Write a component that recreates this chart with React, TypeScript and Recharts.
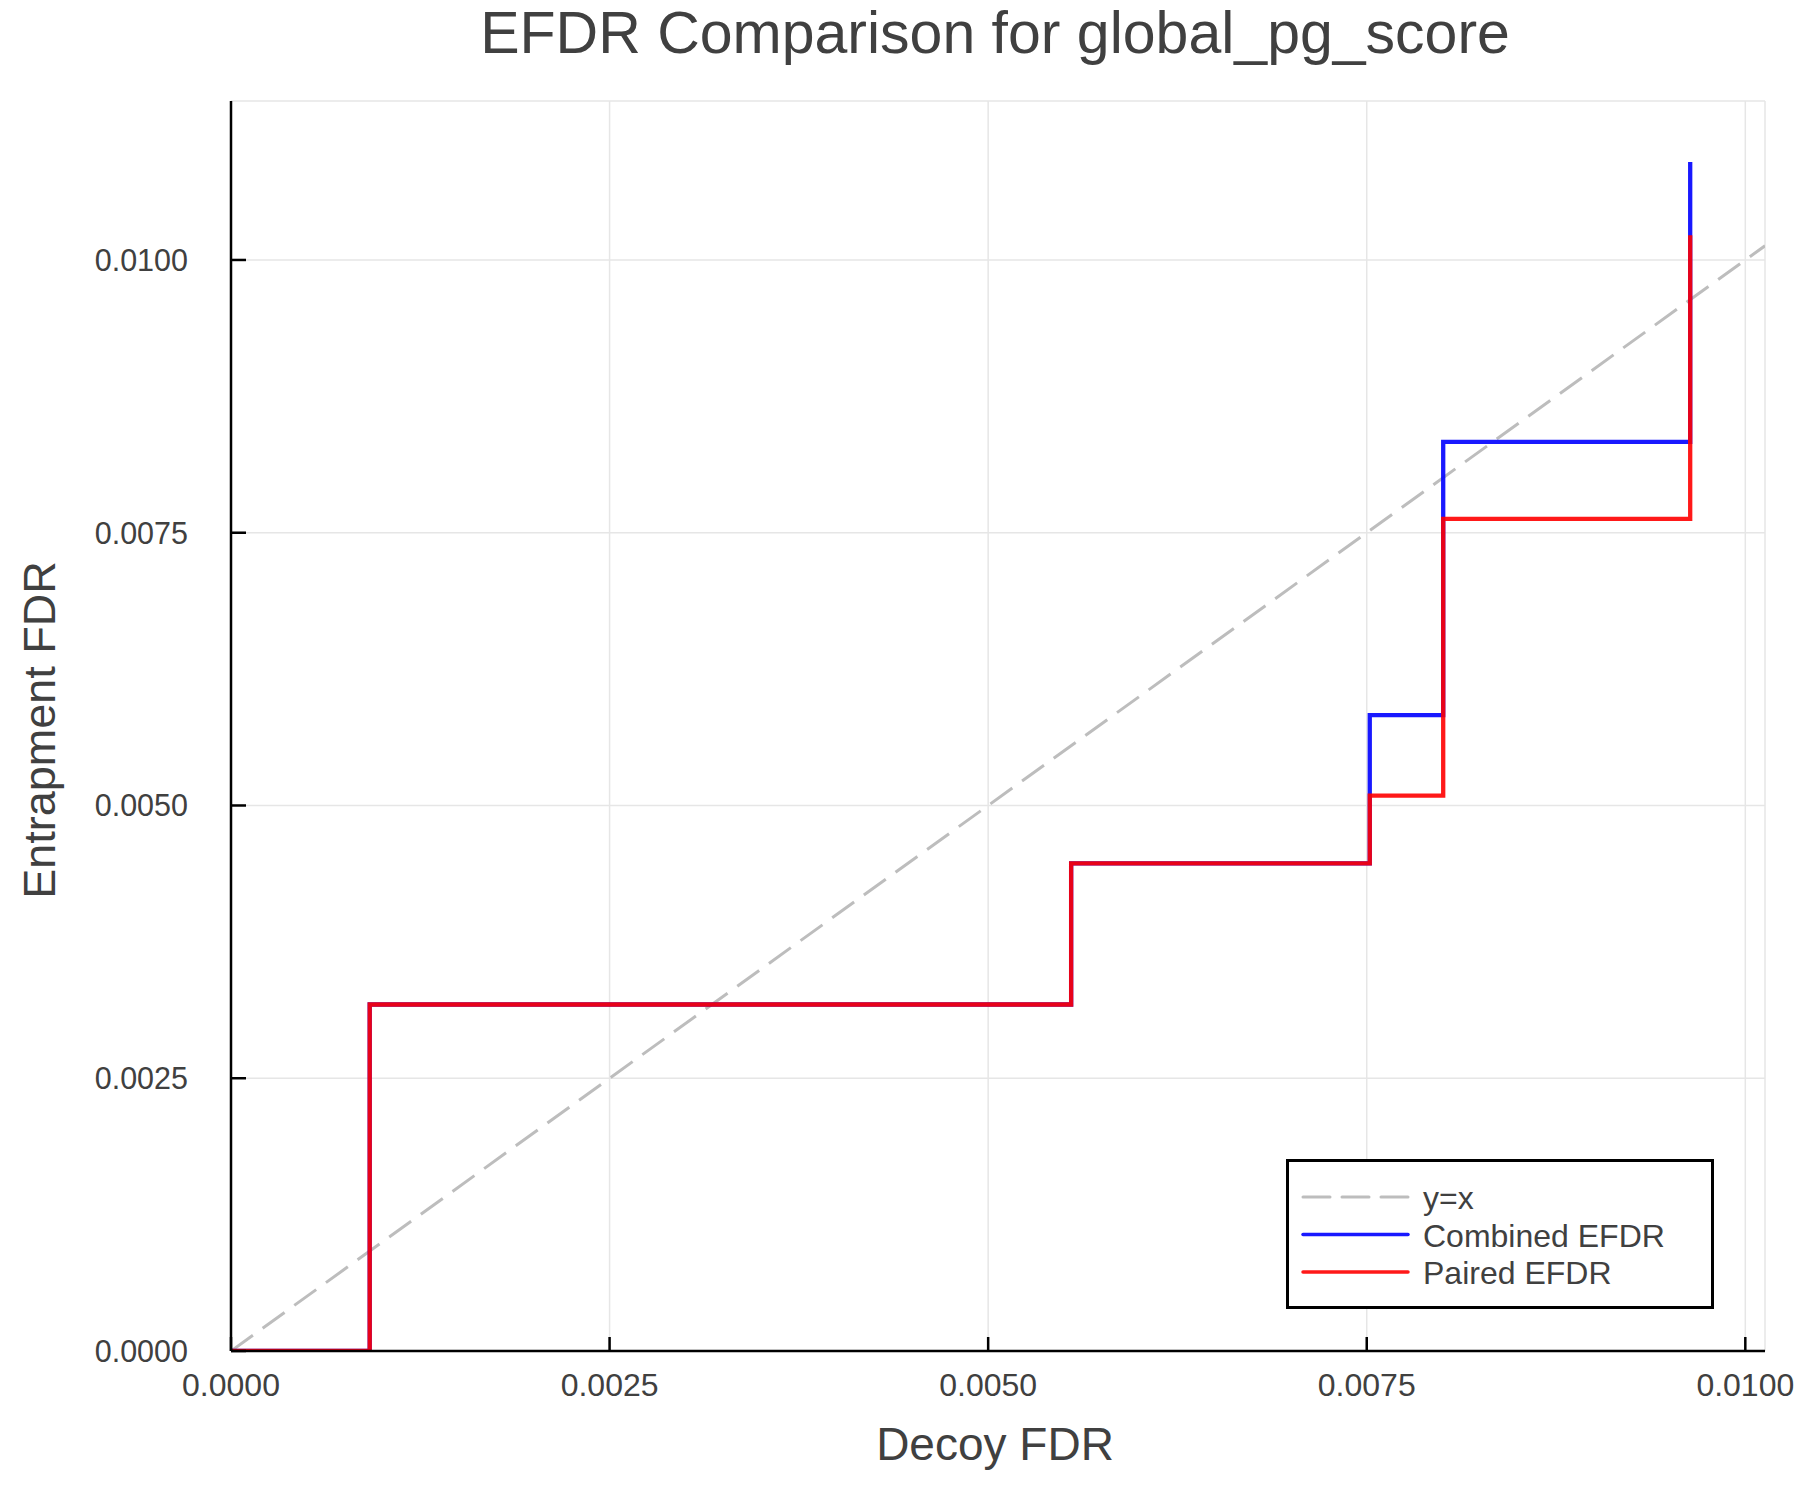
import React from "react";
import {
  CartesianGrid,
  Legend,
  Line,
  LineChart,
  XAxis,
  YAxis,
} from "recharts";

// values
const DECOY_FDR = [0, 0.000916, 0.005548, 0.00752, 0.008005, 0.009636];
const COMBINED_EFDR = [0, 0.003176, 0.00447, 0.005828, 0.008332, 0.010899];
const PAIRED_EFDR = [0, 0.003176, 0.00447, 0.005091, 0.007627, 0.010226];
const DIAGONAL = [0, 0.01013];

const X_TICKS = [0, 0.0025, 0.005, 0.0075, 0.01];
const Y_TICKS = [0, 0.0025, 0.005, 0.0075, 0.01];
const X_MAX = 0.01013;
const Y_MAX = 0.011457;

const FONT = "'Liberation Sans', Arial, Helvetica, sans-serif";
const TEXT = "#404040";

const diagonalData = DIAGONAL.map((v) => ({ x: v, y: v }));
const combinedData = DECOY_FDR.map((x, i) => ({ x, y: COMBINED_EFDR[i] }));
const pairedData = DECOY_FDR.map((x, i) => ({ x, y: PAIRED_EFDR[i] }));

const SERIES = [
  { name: "y=x", data: diagonalData, color: "#bdbdbd", width: 3, dash: "27 12", opacity: 1 },
  { name: "Combined EFDR", data: combinedData, color: "#0000ff", width: 4.3, dash: undefined, opacity: 0.9 },
  { name: "Paired EFDR", data: pairedData, color: "#ff0000", width: 4.3, dash: undefined, opacity: 0.9 },
];

const fmt = (v: number) => Number(v).toFixed(4);

function LegendBox() {
  return (
    <svg width={428} height={150} style={{ display: "block" }}>
      <rect x={1.5} y={1.5} width={425} height={147} fill="#fff" stroke="#000" strokeWidth={3} />
      {SERIES.map((s, i) => {
        const y = 38 + i * 37.5;
        return (
          <g key={s.name}>
            <line
              x1={17}
              x2={122}
              y1={y}
              y2={y}
              stroke={s.color}
              strokeWidth={s.dash ? 3 : 3.5}
              strokeDasharray={s.dash}
              strokeOpacity={s.opacity}
              strokeLinecap="round"
            />
            <text x={137} y={y + 12} fontSize={32} fontFamily={FONT} fill={TEXT}>
              {s.name}
            </text>
          </g>
        );
      })}
    </svg>
  );
}

export default function App() {
  return (
    <div style={{ position: "absolute", left: 0, top: 0, width: 1800, height: 1500, background: "#fff" }}>
      <LineChart
        width={1800}
        height={1500}
        margin={{ top: 101, right: 35, left: 31, bottom: 89 }}
      >
        <CartesianGrid stroke="#e6e6e6" strokeWidth={1.5} />
        <XAxis
          dataKey="x"
          type="number"
          domain={[0, X_MAX]}
          ticks={X_TICKS}
          tickFormatter={fmt}
          allowDataOverflow
          height={60}
          axisLine={{ stroke: "#000", strokeWidth: 2.5 }}
          tickLine={{ stroke: "#000", strokeWidth: 2.5 }}
          tickSize={-14}
          tickMargin={36}
          tick={{ fontSize: 32, fontFamily: FONT, fill: TEXT }}
        />
        <YAxis
          dataKey="y"
          type="number"
          domain={[0, Y_MAX]}
          ticks={Y_TICKS}
          tickFormatter={fmt}
          allowDataOverflow
          width={200}
          axisLine={{ stroke: "#000", strokeWidth: 2.5 }}
          tickLine={{ stroke: "#000", strokeWidth: 2.5 }}
          tickSize={-15}
          tickMargin={58}
          tick={{ fontSize: 30.5, fontFamily: FONT, fill: TEXT }}
        />
        {SERIES.map((s) => (
          <Line
            key={s.name}
            name={s.name}
            data={s.data}
            dataKey="y"
            type={s.name === "y=x" ? "linear" : "stepAfter"}
            stroke={s.color}
            strokeWidth={s.width}
            strokeDasharray={s.dash}
            strokeOpacity={s.opacity}
            dot={false}
            activeDot={false}
            isAnimationActive={false}
          />
        ))}
        <Legend
          layout="horizontal"
          verticalAlign="middle"
          align="center"
          content={() => <LegendBox />}
          wrapperStyle={{ position: "absolute", left: 1286, top: 1159, width: 428, height: 150 }}
        />
        <text x={995} y={53} textAnchor="middle" fontSize={59} fontFamily={FONT} fill={TEXT}>
          EFDR Comparison for global_pg_score
        </text>
        <text x={995} y={1460} textAnchor="middle" fontSize={46} fontFamily={FONT} fill={TEXT}>
          Decoy FDR
        </text>
        <text
          x={55}
          y={730}
          transform="rotate(-90 55 730)"
          textAnchor="middle"
          fontSize={45}
          fontFamily={FONT}
          fill={TEXT}
        >
          Entrapment FDR
        </text>
      </LineChart>
    </div>
  );
}
